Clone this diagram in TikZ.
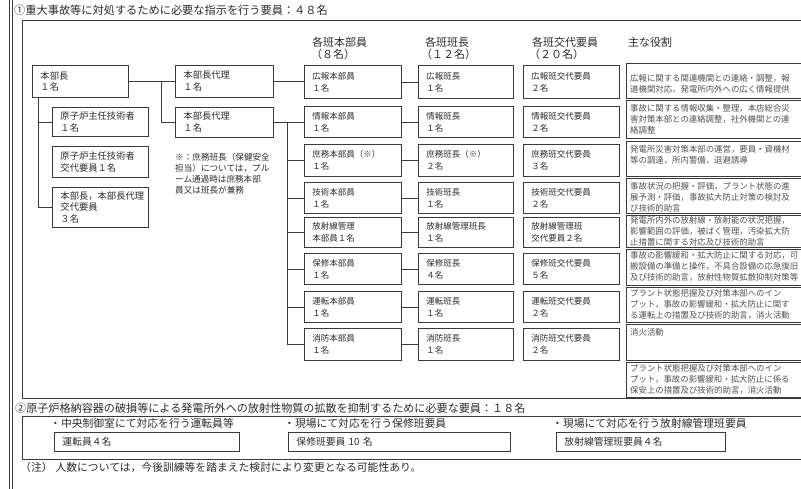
\documentclass[tikz,border=0pt]{standalone}
\usepackage{fontspec}
\setmainfont{Noto Sans CJK JP}
\usetikzlibrary{calc}
\definecolor{lc}{HTML}{3A3A3A}
\definecolor{tc}{HTML}{2B2B2B}
\definecolor{rc}{HTML}{505050}
\tikzset{
  ln/.style={draw=lc, line width=0.9pt},
  bx/.style={draw=lc, line width=0.9pt, anchor=north west, inner xsep=8pt, inner ysep=0pt, align=left, text=tc, font=\fontsize{8.5}{12}\selectfont},
  ca/.style={bx, text width=81pt},
  cb/.style={bx, text width=79pt},
  cc/.style={bx, text width=80pt},
  lb/.style={bx, text width=80pt, font=\fontsize{9.3}{11.5}\selectfont},
  db/.style={bx, text width=82pt, font=\fontsize{9.3}{12}\selectfont},
  rb/.style={draw=lc, line width=0.9pt, anchor=north west, inner sep=0pt, minimum width=190pt},
  rt/.style={anchor=north west, inner sep=0pt, align=left, text=rc, font=\fontsize{8.4}{10.9}\selectfont},
  hd/.style={anchor=west, inner sep=0pt, text=tc, font=\fontsize{11}{13}\selectfont},
  pb/.style={bx, minimum height=19pt, font=\fontsize{9.8}{12}\selectfont},
}
\begin{document}
\begin{tikzpicture}[x=1pt,y=-1pt]
\useasboundingbox (0,0) rectangle (801,488);
\begin{scope}
\clip (0,0) rectangle (801,488);
% frames
\draw[ln] (9.5,-10) -- (9.5,500);
\draw[draw=lc, line width=0.6pt] (12,-10) -- (12,500);
\draw[ln] (22,20) rectangle (820,398);
\draw[ln] (22,416) rectangle (820,459);

% headers
\node[hd, font=\fontsize{11.2}{13}\selectfont] (h1) at (14,10) {①重大事故等に対処するために必要な指示を行う要員：４８名};
\node[hd] (ha1) at (312,42) {各班本部員};
\node[hd] (ha2) at (311,54) {（８名）};
\node[hd] (hb1) at (425,42) {各班班長};
\node[hd] (hb2) at (421,54) {（１２名）};
\node[hd] (hc1) at (532,42) {各班交代要員};
\node[hd] (hc2) at (529,54) {（２０名）};
\node[hd] (hr) at (628,42) {主な役割};

% left part
\node[lb, minimum height=32pt] (hq) at (32,65) {本部長\\１名};
\node[db, minimum height=32pt] (dp1) at (175,65) {本部長代理\\１名};
\node[db, minimum height=30pt] (dp2) at (175,107) {本部長代理\\１名};
\node[lb, minimum height=29pt] (ro1) at (52,107) {原子炉主任技術者\\１名};
\node[lb, minimum height=31pt] (ro2) at (52,146) {原子炉主任技術者\\交代要員１名};
\node[lb, minimum height=40pt] (ro3) at (52,187) {本部長，本部長代理\\交代要員\\３名};
\node[anchor=north west, inner sep=0pt, align=left, text=tc, font=\fontsize{8.6}{11}\selectfont] (nt1) at (175,153)
  {※：庶務班長（保健安全\\担当）については，プル\\ーム通過時は庶務本部\\員又は班長が兼務};

% column 1
\node[ca, minimum height=33pt] (a1) at (304,65) {広報本部員\\１名};
\node[ca, minimum height=31pt] (a2) at (304,106) {情報本部員\\１名};
\node[ca, minimum height=32pt] (a3) at (304,144) {庶務本部員（※）\\１名};
\node[ca, minimum height=31pt] (a4) at (304,182) {技術本部員\\１名};
\node[ca, minimum height=30pt] (a5) at (304,217) {放射線管理\\本部員１名};
\node[ca, minimum height=31pt] (a6) at (304,253) {保修本部員\\１名};
\node[ca, minimum height=31pt] (a7) at (304,291) {運転本部員\\１名};
\node[ca, minimum height=32pt] (a8) at (304,328) {消防本部員\\１名};

% column 2
\node[cb, minimum height=33pt] (b1) at (418,65) {広報班長\\１名};
\node[cb, minimum height=31pt] (b2) at (418,106) {情報班長\\１名};
\node[cb, minimum height=32pt] (b3) at (418,144) {庶務班長（※）\\２名};
\node[cb, minimum height=31pt] (b4) at (418,182) {技術班長\\１名};
\node[cb, minimum height=30pt] (b5) at (418,217) {放射線管理班長\\１名};
\node[cb, minimum height=31pt] (b6) at (418,253) {保修班長\\４名};
\node[cb, minimum height=31pt] (b7) at (418,291) {運転班長\\１名};
\node[cb, minimum height=32pt] (b8) at (418,328) {消防班長\\１名};

% column 3
\node[cc, minimum height=33pt] (c1) at (523,65) {広報班交代要員\\２名};
\node[cc, minimum height=31pt] (c2) at (523,106) {情報班交代要員\\２名};
\node[cc, minimum height=32pt] (c3) at (523,144) {庶務班交代要員\\３名};
\node[cc, minimum height=31pt] (c4) at (523,182) {技術班交代要員\\２名};
\node[cc, minimum height=30pt] (c5) at (523,217) {放射線管理班\\交代要員２名};
\node[cc, minimum height=31pt] (c6) at (523,253) {保修班交代要員\\５名};
\node[cc, minimum height=31pt] (c7) at (523,291) {運転班交代要員\\２名};
\node[cc, minimum height=32pt] (c8) at (523,328) {消防班交代要員\\２名};

% roles
\node[rb, minimum height=35pt] (r1) at (626,63) {};
\node[rb, minimum height=38pt] (r2) at (626,100) {};
\node[rb, minimum height=35pt] (r3) at (626,141) {};
\node[rb, minimum height=35pt] (r4) at (626,178) {};
\node[rb, minimum height=32pt] (r5) at (626,215) {};
\node[rb, minimum height=36pt] (r6) at (626,249) {};
\node[rb, minimum height=35pt] (r7) at (626,287) {};
\node[rb, minimum height=36pt] (r8) at (626,324) {};
\node[rb, minimum height=35pt] (r9) at (626,362) {};
\node[rt] (t1) at ([shift={(4pt,-11pt)}]r1.north west) {広報に関する関連機関との連絡・調整，報\\道機関対応，発電所内外への広く情報提供};
\node[rt] (t2) at ([shift={(4pt,-4pt)}]r2.north west) {事故に関する情報収集・整理，本店総合災\\害対策本部との連絡調整，社外機関との連\\絡調整};
\node[rt] (t3) at ([shift={(4pt,-4pt)}]r3.north west) {発電所災害対策本部の運営，要員・資機材\\等の調達，所内警備，退避誘導};
\node[rt] (t4) at ([shift={(4pt,-4pt)}]r4.north west) {事故状況の把握・評価，プラント状態の進\\展予測・評価，事故拡大防止対策の検討及\\び技術的助言};
\node[rt] (t5) at ([shift={(4pt,-1.5pt)}]r5.north west) {発電所内外の放射線・放射能の状況把握，\\影響範囲の評価，被ばく管理，汚染拡大防\\止措置に関する対応及び技術的助言};
\node[rt] (t6) at ([shift={(4pt,-2pt)}]r6.north west) {事故の影響緩和・拡大防止に関する対応，可\\搬設備の準備と操作，不具合設備の応急復旧\\及び技術的助言，放射性物質拡散抑制対策等};
\node[rt] (t7) at ([shift={(4pt,-2.5pt)}]r7.north west) {プラント状態把握及び対策本部へのイン\\プット，事故の影響緩和・拡大防止に関す\\る運転上の措置及び技術的助言，消火活動};
\node[rt] (t8) at ([shift={(4pt,-4pt)}]r8.north west) {消火活動};
\node[rt] (t9) at ([shift={(4pt,-2.5pt)}]r9.north west) {プラント状態把握及び対策本部へのイン\\プット，事故の影響緩和・拡大防止に係る\\保安上の措置及び技術的助言，消火活動};

% connectors
\draw[ln] (hq.east) -- (dp1.west);
\coordinate (f1) at ($(hq.east)!0.70!(dp1.west)$);
\draw[ln] (f1) |- (dp2.west);
\coordinate (f2) at ([xshift=6pt]hq.south west);
\draw[ln] (f2) |- (ro1.west);
\draw[ln] (f2) |- (ro3.west);
\draw[ln] (dp1.east) -- (dp1.east -| a1.west);
\draw[ln] (dp2.east) -- (dp2.east -| a2.west);
\coordinate (bus) at ($(dp2.east)!0.45!(a2.west)$);
\foreach \i in {3,...,8} {\draw[ln] (bus) |- (a\i.west);}
\foreach \i in {1,...,8} {\draw[ln] (a\i.east) -- (b\i.west);}

% section 2
\node[hd, font=\fontsize{11.1}{13}\selectfont] (h2) at (15,408) {②原子炉格納容器の破損等による発電所外への放射性物質の拡散を抑制するために必要な要員：１８名};
\node[hd, font=\fontsize{10.8}{13}\selectfont] (s1) at (50,423) {・中央制御室にて対応を行う運転員等};
\node[hd, font=\fontsize{10.8}{13}\selectfont] (s2) at (284,423) {・現場にて対応を行う保修班要員};
\node[hd, font=\fontsize{10.8}{13}\selectfont] (s3) at (552,423) {・現場にて対応を行う放射線管理班要員};
\node[pb, text width=169pt] (p1) at (54,432) {運転員４名};
\node[pb, text width=206pt] (p2) at (288,432) {保修班要員 10 名};
\node[pb, text width=153pt] (p3) at (556,432) {放射線管理班要員４名};
\node[hd, font=\fontsize{10.8}{13}\selectfont] (nt) at (20,467) {（注）\hspace{3pt}人数については，今後訓練等を踏まえた検討により変更となる可能性あり。};
\end{scope}
\end{tikzpicture}
\end{document}
